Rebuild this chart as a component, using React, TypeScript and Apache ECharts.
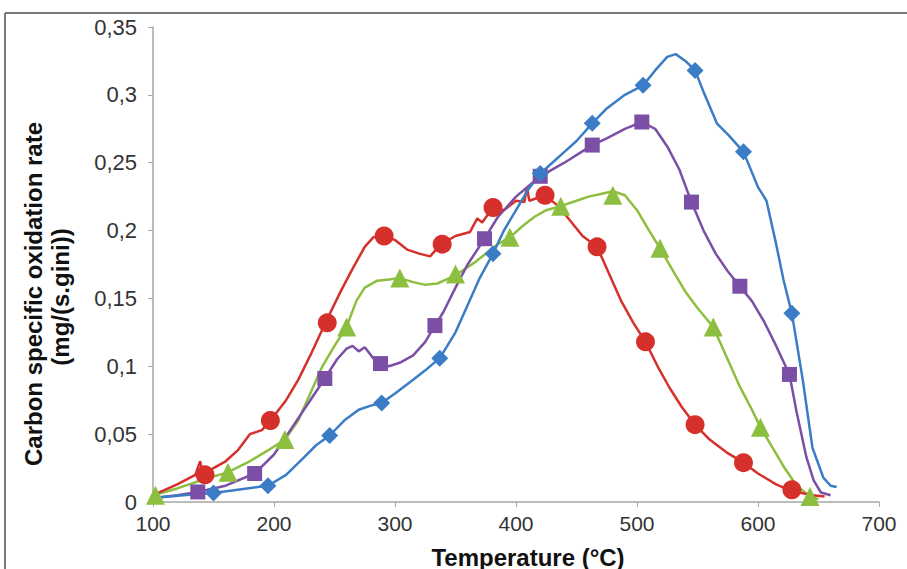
import React, { useEffect, useRef } from "react";
import * as echarts from "echarts";

// Tick labels / axis ranges
const xTicks = [100, 200, 300, 400, 500, 600, 700];
const yTickLabels = ["0", "0,05", "0,1", "0,15", "0,2", "0,25", "0,3", "0,35"];

// Red curve (circles)
const redLine: [number, number][] = [
  [100, 0.005], [120, 0.013], [135, 0.02], [139, 0.03], [141, 0.021], [150, 0.025], [160, 0.03], [170, 0.038],
  [180, 0.05], [190, 0.053], [197, 0.06], [210, 0.075], [220, 0.09], [230, 0.108], [243, 0.133],
  [255, 0.155], [265, 0.172], [275, 0.188], [282, 0.195], [290, 0.197], [300, 0.193], [310, 0.186],
  [320, 0.183], [329, 0.181], [338, 0.19], [350, 0.196], [362, 0.199], [368, 0.209], [372, 0.206], [381, 0.217],
  [390, 0.215], [400, 0.222], [407, 0.221], [409, 0.232], [411, 0.222], [424, 0.226], [435, 0.218],
  [445, 0.207], [455, 0.196], [467, 0.188], [477, 0.168], [487, 0.148], [497, 0.132], [507, 0.118],
  [517, 0.1], [527, 0.084], [537, 0.07], [548, 0.057], [560, 0.046], [575, 0.036], [588, 0.029],
  [600, 0.021], [615, 0.013], [628, 0.008], [645, 0.005], [655, 0.004],
];
const redMarkers: [number, number][] = [
  [143, 0.02], [197, 0.06], [244, 0.132], [291, 0.196], [339, 0.19], [381, 0.217], [424, 0.226],
  [467, 0.188], [507, 0.118], [548, 0.057], [588, 0.029], [628, 0.009],
];

// Green curve (triangles)
const greenLine: [number, number][] = [
  [100, 0.005], [120, 0.01], [140, 0.016], [162, 0.022], [180, 0.03], [195, 0.038], [209, 0.046],
  [220, 0.06], [230, 0.08], [240, 0.1], [250, 0.115], [260, 0.129], [268, 0.148], [275, 0.158],
  [285, 0.163], [295, 0.164], [304, 0.165], [315, 0.162], [325, 0.16], [335, 0.161], [345, 0.165],
  [355, 0.17], [365, 0.176], [375, 0.183], [385, 0.19], [395, 0.195], [405, 0.203], [415, 0.21],
  [425, 0.215], [437, 0.218], [450, 0.222], [460, 0.225], [470, 0.227], [480, 0.229], [490, 0.226],
  [500, 0.215], [510, 0.2], [519, 0.187], [530, 0.17], [540, 0.155], [550, 0.143], [563, 0.129],
  [575, 0.105], [585, 0.085], [595, 0.068], [602, 0.055], [612, 0.04], [622, 0.025], [632, 0.012],
  [643, 0.004], [650, 0.002],
];
const greenMarkers: [number, number][] = [
  [102, 0.005], [162, 0.022], [209, 0.046], [260, 0.129], [304, 0.165], [350, 0.168], [395, 0.195],
  [437, 0.218], [480, 0.226], [519, 0.187], [563, 0.129], [602, 0.055], [643, 0.004],
];

// Purple curve (squares)
const purpleLine: [number, number][] = [
  [100, 0.003], [120, 0.005], [137, 0.0074], [160, 0.012], [184, 0.021], [200, 0.035], [215, 0.055],
  [230, 0.075], [242, 0.091], [252, 0.105], [260, 0.113], [265, 0.115], [270, 0.111], [275, 0.114],
  [282, 0.106], [288, 0.102], [295, 0.1], [305, 0.103], [315, 0.108], [325, 0.118], [333, 0.13],
  [340, 0.14], [350, 0.158], [360, 0.175], [374, 0.194], [385, 0.21], [400, 0.225], [420, 0.24],
  [440, 0.25], [463, 0.263], [475, 0.268], [490, 0.275], [504, 0.28], [515, 0.275], [525, 0.262],
  [535, 0.245], [545, 0.221], [555, 0.2], [565, 0.183], [575, 0.17], [585, 0.159], [595, 0.148],
  [605, 0.133], [615, 0.115], [626, 0.094], [632, 0.066], [640, 0.033], [646, 0.016], [652, 0.007],
  [660, 0.005],
];
const purpleMarkers: [number, number][] = [
  [137, 0.0074], [184, 0.021], [242, 0.091], [288, 0.102], [333, 0.13], [374, 0.194], [420, 0.24],
  [463, 0.263], [504, 0.28], [545, 0.221], [585, 0.159], [626, 0.094],
];

// Blue curve (diamonds)
const blueLine: [number, number][] = [
  [100, 0.003], [125, 0.005], [150, 0.0066], [170, 0.009], [195, 0.012], [210, 0.02], [225, 0.033],
  [235, 0.042], [246, 0.049], [258, 0.06], [270, 0.068], [280, 0.071], [289, 0.073], [300, 0.08],
  [315, 0.09], [325, 0.097], [337, 0.106], [350, 0.125], [360, 0.145], [370, 0.165], [381, 0.183],
  [390, 0.2], [400, 0.215], [410, 0.23], [420, 0.242], [430, 0.25], [440, 0.258], [450, 0.266],
  [463, 0.279], [475, 0.29], [490, 0.3], [505, 0.307], [515, 0.318], [525, 0.328], [532, 0.33],
  [540, 0.325], [548, 0.318], [556, 0.3], [566, 0.279], [576, 0.27], [588, 0.258], [600, 0.232],
  [607, 0.222], [615, 0.19], [621, 0.164], [628, 0.139], [637, 0.09], [645, 0.04], [654, 0.018],
  [660, 0.012], [665, 0.011],
];
const blueMarkers: [number, number][] = [
  [150, 0.0066], [195, 0.012], [246, 0.049], [289, 0.073], [337, 0.106], [381, 0.183], [420, 0.242],
  [463, 0.279], [505, 0.307], [548, 0.318], [588, 0.258], [628, 0.139],
];

const RED = "#d6302c";
const GREEN = "#8cbf3f";
const PURPLE = "#7b4fa6";
const BLUE = "#3a7dc6";
const FONT = "Liberation Sans, Arial, sans-serif";

export default function App() {
  const ref = useRef<HTMLDivElement>(null);
  useEffect(() => {
    if (!ref.current) return;
    const chart = echarts.init(ref.current, null, { renderer: "svg" });
    const lineSeries = (data: [number, number][], color: string, z: number) => ({
      type: "line",
      data,
      showSymbol: false,
      symbol: "none",
      lineStyle: { color, width: 2.5 },
      itemStyle: { color },
      z,
    });
    const markerSeries = (data: [number, number][], color: string, symbol: string, size: number, z: number) => ({
      type: "scatter",
      data,
      symbol,
      symbolSize: size,
      itemStyle: { color, opacity: 1 },
      z,
    });
    chart.setOption({
      animation: false,
      backgroundColor: "#ffffff",
      grid: { left: 153, right: 28, top: 27, bottom: 67 },
      xAxis: {
        type: "value",
        min: 100,
        max: 700,
        interval: 100,
        axisLine: { show: true, lineStyle: { color: "#a6a6a6", width: 1.5 } },
        axisTick: { show: true, length: 5, lineStyle: { color: "#a6a6a6" } },
        splitLine: { show: false },
        axisLabel: {
          color: "#333",
          fontFamily: FONT,
          fontSize: 21,
          margin: 11,
          formatter: (v: number) => (xTicks.includes(v) ? String(v) : ""),
        },
      },
      yAxis: {
        type: "value",
        min: 0,
        max: 0.35,
        interval: 0.05,
        axisLine: { show: true, lineStyle: { color: "#a6a6a6", width: 1.5 } },
        axisTick: { show: true, length: 5, lineStyle: { color: "#a6a6a6" } },
        splitLine: { show: false },
        axisLabel: {
          color: "#333",
          fontFamily: FONT,
          fontSize: 22,
          margin: 16,
          formatter: (v: number) => yTickLabels[Math.round(v / 0.05)] ?? "",
        },
      },
      graphic: [
        { type: "line", shape: { x1: 5, y1: 13, x2: 907, y2: 13 }, style: { stroke: "#7a7a7a", lineWidth: 2 } },
        { type: "line", shape: { x1: 5, y1: 13, x2: 5, y2: 569 }, style: { stroke: "#7a7a7a", lineWidth: 2 } },
        {
          type: "text",
          x: 528,
          y: 557,
          style: {
            text: "Temperature (°C)",
            fontFamily: FONT,
            fontWeight: "bold",
            fontSize: 24,
            fill: "#111",
            align: "center",
            verticalAlign: "middle",
          },
        },
        {
          type: "text",
          x: 33,
          y: 294,
          rotation: Math.PI / 2,
          style: {
            text: "Carbon specific oxidation rate",
            fontFamily: FONT,
            fontWeight: "bold",
            fontSize: 24,
            fill: "#111",
            align: "center",
            verticalAlign: "middle",
          },
        },
        {
          type: "text",
          x: 60,
          y: 297,
          rotation: Math.PI / 2,
          style: {
            text: "(mg/(s.gini))",
            fontFamily: FONT,
            fontWeight: "bold",
            fontSize: 24,
            fill: "#111",
            align: "center",
            verticalAlign: "middle",
          },
        },
      ],
      series: [
        lineSeries(greenLine, GREEN, 2),
        markerSeries(greenMarkers, GREEN, "triangle", 19, 3),
        lineSeries(redLine, RED, 2),
        markerSeries(redMarkers, RED, "circle", 19, 3),
        lineSeries(purpleLine, PURPLE, 2),
        markerSeries(purpleMarkers, PURPLE, "rect", 15, 3),
        lineSeries(blueLine, BLUE, 2),
        markerSeries(blueMarkers, BLUE, "diamond", 17, 3),
      ],
    });
    return () => chart.dispose();
  }, []);
  return (
    <div
      ref={ref}
      style={{ position: "fixed", left: 0, top: 0, width: 907, height: 569, background: "#fff" }}
    />
  );
}
